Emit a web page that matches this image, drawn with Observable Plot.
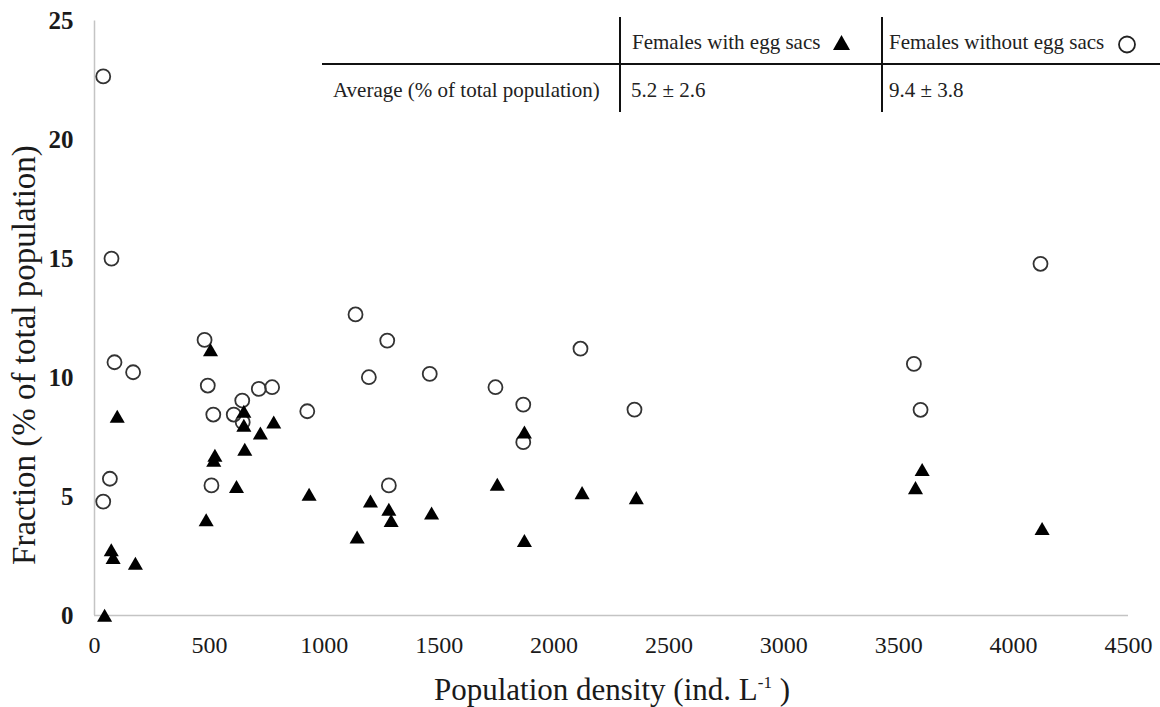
<!DOCTYPE html>
<html><head><meta charset="utf-8">
<script src="https://cdn.jsdelivr.net/npm/d3@7"></script>
<script src="https://cdn.jsdelivr.net/npm/@observablehq/plot@0.6"></script>
<style>
body{margin:0;background:#fff;}
#chart{width:1160px;height:707px;}
#chart svg text, #chart svg tspan{font-family:"Liberation Serif","Times New Roman",serif !important;}
#chart svg .tbl text{text-anchor:start;}
</style></head><body><div id="chart"></div>
<script>
// Females without egg sacs (open circles)
const withoutX = [38, 74, 87, 168, 67, 38, 479, 493, 715, 773, 643, 517, 606, 645, 926, 509,
  1136, 1274, 1194, 1459, 1745, 1866, 2350, 1866, 1281, 2115, 4117, 3566, 3595];
const withoutY = [22.67, 15.01, 10.65, 10.23, 5.75, 4.79, 11.59, 9.67, 9.53, 9.60, 9.04, 8.45, 8.45, 8.13, 8.59, 5.47,
  12.66, 11.56, 10.02, 10.16, 9.60, 8.87, 8.66, 7.29, 5.47, 11.22, 14.79, 10.58, 8.65];
// Females with egg sacs (filled triangles)
const withX = [505, 99, 650, 650, 722, 780, 654, 524, 519, 618, 934, 486, 73, 81, 178, 44,
  1201, 1281, 1291, 1467, 1143, 1753, 1871, 1871, 2122, 2358, 3602, 3573, 4124];
const withY = [11.17, 8.37, 8.58, 7.99, 7.67, 8.13, 6.98, 6.73, 6.52, 5.42, 5.09, 4.02, 2.76, 2.43, 2.19, 0,
  4.81, 4.46, 3.99, 4.30, 3.29, 5.51, 7.71, 3.15, 5.16, 4.95, 6.13, 5.37, 3.65];

const xTicks = [0, 500, 1000, 1500, 2000, 2500, 3000, 3500, 4000, 4500];
const yTicks = [0, 5, 10, 15, 20, 25];
const xLabel = "Population density (ind. L";
const xLabelSup = "-1";
const yLabel = "Fraction (% of total population)";
const tableHeaders = ["Females with egg sacs", "Females without egg sacs"];
const tableRowLabel = "Average (% of total population)";
const tableValues = ["5.2 \u00b1 2.6", "9.4 \u00b1 3.8"];

const circles = withoutX.map((x, i) => ({x, y: withoutY[i]}));
const tris = withX.map((x, i) => ({x, y: withY[i]}));

const serif = "Liberation Serif, Times New Roman, serif";

const plot = Plot.plot({
  width: 1160, height: 707,
  marginLeft: 94, marginRight: 32, marginTop: 20.5, marginBottom: 92,
  style: {fontFamily: serif, background: "#fff", color: "#1a1a1a", overflow: "visible"},
  x: {domain: [0, 4500], label: null},
  y: {domain: [0, 25], label: null},
  marks: [
    Plot.ruleY([0], {stroke: "#c4c4c4", strokeWidth: 1.5}),
    Plot.ruleX([0], {stroke: "#c4c4c4", strokeWidth: 1.5}),
    Plot.axisX({ticks: xTicks, tickSize: 0, tickPadding: 20, fontSize: 24, label: null, tickFormat: d => String(d)}),
    Plot.axisY({ticks: yTicks, tickSize: 0, tickPadding: 21, fontSize: 25, fontWeight: "bold", label: null}),
    Plot.dot(circles, {x: "x", y: "y", r: 7, stroke: "#333", strokeWidth: 1.8, fill: "none"}),
    Plot.dot(tris, {x: "x", y: "y", symbol: "triangle", r: 5.6, fill: "#000", dy: 2})
  ]
});

const svg = d3.select(plot);
// axis titles
svg.append("text")
  .attr("transform", "translate(24,355) rotate(-90)")
  .attr("text-anchor", "middle").attr("dominant-baseline", "central")
  .attr("font-size", 33).attr("fill", "#1a1a1a")
  .text(yLabel);
const xl = svg.append("text")
  .attr("x", 612).attr("y", 700)
  .attr("text-anchor", "middle")
  .attr("font-size", 31).attr("fill", "#1a1a1a");
xl.append("tspan").text(xLabel);
xl.append("tspan").attr("dy", -12).attr("font-size", 17).text(xLabelSup);
xl.append("tspan").attr("dy", 12).text(" )");

// table
const tg = svg.append("g").attr("class", "tbl").attr("font-size", 21).attr("fill", "#222").attr("text-anchor", "start");
tg.append("line").attr("x1", 322).attr("x2", 1160).attr("y1", 64).attr("y2", 64).attr("stroke", "#111").attr("stroke-width", 2);
[620, 882].forEach(x => tg.append("line").attr("x1", x).attr("x2", x).attr("y1", 17).attr("y2", 112).attr("stroke", "#111").attr("stroke-width", 2));
tg.append("text").attr("x", 632).attr("y", 49).text(tableHeaders[0]);
tg.append("text").attr("x", 889).attr("y", 49).text(tableHeaders[1]);
tg.append("text").attr("x", 333).attr("y", 97).text(tableRowLabel);
tg.append("text").attr("x", 631).attr("y", 97).text(tableValues[0]);
tg.append("text").attr("x", 889).attr("y", 97).text(tableValues[1]);
tg.append("path").attr("d", "M833,50L850,50L841.5,35Z").attr("fill", "#000");
tg.append("circle").attr("cx", 1127).attr("cy", 44.5).attr("r", 8).attr("fill", "none").attr("stroke", "#222").attr("stroke-width", 1.8);

document.getElementById("chart").appendChild(plot);
</script></body></html>
